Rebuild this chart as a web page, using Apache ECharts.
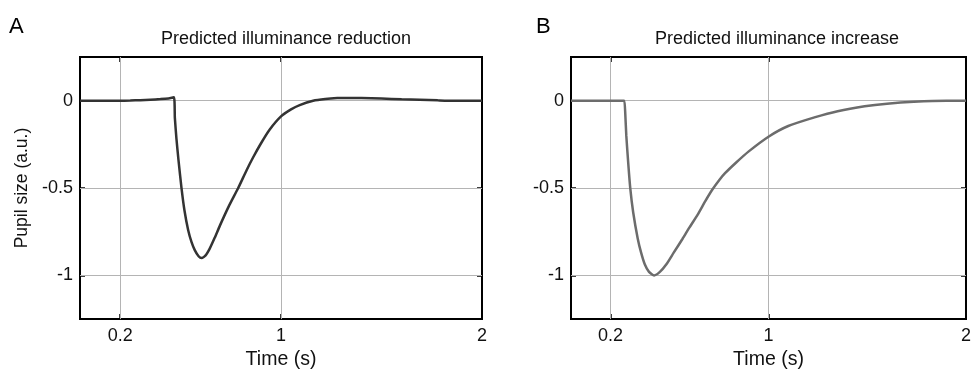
<!DOCTYPE html>
<html>
<head>
<meta charset="utf-8">
<script src="https://cdn.jsdelivr.net/npm/echarts@6/dist/echarts.min.js"></script>
<style>
  html, body { margin: 0; padding: 0; background: #fff; }
  #chart { width: 974px; height: 375px; }
</style>
</head>
<body>
<div id="chart"></div>
<script>
// tick positions shared by both panels
const xTicks = [0.2, 1, 2];
const yTicks = [0, -0.5, -1];

// panel A: predicted illuminance reduction
const timeA = [0, 0.2, 0.25, 0.3, 0.35, 0.4, 0.44, 0.467, 0.472, 0.48, 0.49, 0.505, 0.52, 0.538,
  0.555, 0.571, 0.59, 0.605, 0.625, 0.646, 0.67, 0.696, 0.74, 0.787, 0.83, 0.861, 0.9, 0.944,
  1.0, 1.05, 1.093, 1.16, 1.22, 1.28, 1.33, 1.4, 1.5, 1.6, 1.69, 1.78, 1.86, 2];
const pupilA = [0, 0, 0.001, 0.003, 0.006, 0.009, 0.013, 0.019, -0.1, -0.22, -0.34, -0.5, -0.63, -0.74,
  -0.81, -0.855, -0.89, -0.9, -0.885, -0.845, -0.785, -0.715, -0.605, -0.5, -0.395, -0.325, -0.245, -0.165,
  -0.09, -0.05, -0.025, 0, 0.01, 0.015, 0.016, 0.015, 0.012, 0.008, 0.005, 0.002, 0, 0];

// panel B: predicted illuminance increase
const timeB = [0, 0.2, 0.26, 0.27, 0.275, 0.28, 0.29, 0.3, 0.315, 0.338, 0.355, 0.374, 0.395, 0.421, 0.45, 0.482,
  0.52, 0.565, 0.6, 0.64, 0.68, 0.715, 0.75, 0.78, 0.835, 0.9, 1.0, 1.1, 1.237, 1.35, 1.487, 1.6, 1.736, 1.9, 2];
const pupilB = [0, 0, 0, 0, -0.08, -0.2, -0.36, -0.5, -0.64, -0.79, -0.87, -0.938, -0.98, -1.0, -0.98, -0.938,
  -0.87, -0.79, -0.725, -0.655, -0.575, -0.51, -0.455, -0.415, -0.355, -0.29, -0.206, -0.145, -0.094, -0.06, -0.032, -0.017, -0.006, 0, 0];

const font = "'Liberation Sans', Arial, sans-serif";
const chart = echarts.init(document.getElementById('chart'));

const zip = (xs, ys) => xs.map((x, i) => [x, ys[i]]);

const tickStyle = { inside: true, length: 5, lineStyle: { color: '#000', width: 1.5 } };
const hiddenLine = { show: false, onZero: false };

function xAxes(gridIndex) {
  return [
    {
      gridIndex, type: 'value', min: 0, max: 2, position: 'bottom',
      axisLine: hiddenLine,
      axisTick: Object.assign({ customValues: xTicks }, tickStyle),
      axisLabel: { customValues: xTicks, color: '#111', fontSize: 18, margin: 8, fontFamily: font },
      splitLine: { show: false },
      name: 'Time (s)', nameLocation: 'middle', nameGap: 30,
      nameTextStyle: { color: '#111', fontSize: 19.5, fontFamily: font }
    },
    {
      gridIndex, type: 'value', min: 0, max: 2, position: 'top',
      axisLine: hiddenLine,
      axisTick: Object.assign({ customValues: xTicks }, tickStyle),
      axisLabel: { show: false },
      splitLine: { show: false }
    }
  ];
}

function yAxes(gridIndex, withName) {
  return [
    {
      gridIndex, type: 'value', min: -1.25, max: 0.25, position: 'left',
      axisLine: hiddenLine,
      axisTick: Object.assign({ customValues: yTicks }, tickStyle),
      axisLabel: { customValues: yTicks, color: '#111', fontSize: 18, margin: 7, fontFamily: font },
      splitLine: { show: false },
      name: withName ? 'Pupil size (a.u.)' : '', nameLocation: 'middle', nameGap: 49,
      nameTextStyle: { color: '#111', fontSize: 17.5, fontFamily: font }
    },
    {
      gridIndex, type: 'value', min: -1.25, max: 0.25, position: 'right',
      axisLine: hiddenLine,
      axisTick: Object.assign({ customValues: yTicks }, tickStyle),
      axisLabel: { show: false },
      splitLine: { show: false }
    }
  ];
}

// light grid lines, drawn under the curves
function gridLines() {
  return {
    silent: true, symbol: 'none', z: 1,
    label: { show: false },
    lineStyle: { color: '#b4b4b4', width: 1, type: 'solid' },
    data: xTicks.filter(v => v < 2).map(v => ({ xAxis: v }))
      .concat(yTicks.map(v => ({ yAxis: v })))
  };
}

const option = {
  animation: false,
  backgroundColor: '#fff',
  textStyle: { fontFamily: font },
  title: [
    { text: 'Predicted illuminance reduction', left: 281, top: 25, textAlign: 'center',
      textStyle: { fontSize: 18, fontWeight: 'normal', color: '#111', fontFamily: font } },
    { text: 'Predicted illuminance increase', left: 772, top: 25, textAlign: 'center',
      textStyle: { fontSize: 18, fontWeight: 'normal', color: '#111', fontFamily: font } }
  ],
  graphic: [
    { type: 'text', left: 9, top: 16, style: { text: 'A', fontSize: 22, fill: '#000', fontFamily: font } },
    { type: 'text', left: 536, top: 16, style: { text: 'B', fontSize: 22, fill: '#000', fontFamily: font } }
  ],
  grid: [
    { left: 80, width: 402, top: 57, height: 265, show: true, borderColor: '#000', borderWidth: 2, backgroundColor: '#fff' },
    { left: 571, width: 402, top: 57, height: 265, show: true, borderColor: '#000', borderWidth: 2, backgroundColor: '#fff' }
  ],
  xAxis: xAxes(0).concat(xAxes(1)),
  yAxis: yAxes(0, true).concat(yAxes(1, false)),
  series: [
    {
      type: 'line', xAxisIndex: 0, yAxisIndex: 0, z: 3,
      data: zip(timeA, pupilA), showSymbol: false, smooth: 0.2,
      lineStyle: { color: '#333', width: 2.5 },
      markLine: gridLines()
    },
    {
      type: 'line', xAxisIndex: 2, yAxisIndex: 2, z: 3,
      data: zip(timeB, pupilB), showSymbol: false, smooth: 0.2,
      lineStyle: { color: '#6c6c6c', width: 2.5 },
      markLine: gridLines()
    }
  ]
};

chart.setOption(option);
</script>
</body>
</html>
